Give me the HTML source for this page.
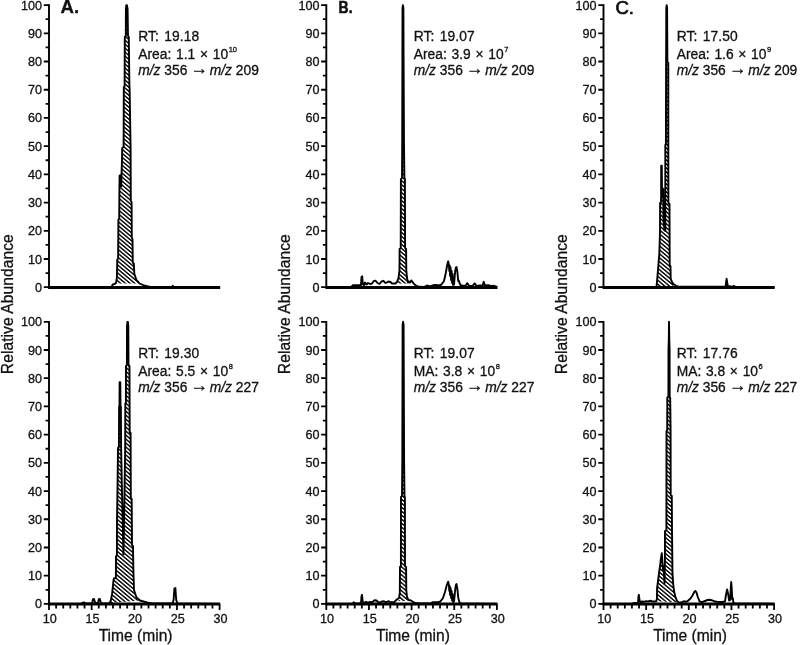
<!DOCTYPE html>
<html lang="en"><head><meta charset="utf-8"><title>Chromatograms</title>
<style>
html,body{margin:0;padding:0;background:#fff;}
body{width:800px;height:645px;overflow:hidden;}
svg{display:block;}
text{font-family:"Liberation Sans",Arial,Helvetica,sans-serif;fill:#111;stroke:#111;stroke-width:0.3px;}
.tk{font-size:12.6px;}
.an{font-size:13.8px;}
.ax{font-size:15.6px;}
.sup{font-size:7.5px;}
.arr{font-size:17.5px;}
.pl{font-size:18.6px;font-weight:bold;}
.tr{fill:none;stroke:#000;stroke-width:1.9;stroke-linejoin:round;stroke-linecap:butt;}
.axl{stroke:#000;stroke-width:1.9;fill:none;}
.tkl{stroke:#000;stroke-width:1.8;fill:none;}
.bl{stroke:#000;stroke-width:3.0;fill:none;}
</style></head><body>
<svg width="800" height="645" viewBox="0 0 800 645">
<defs><pattern id="h" patternUnits="userSpaceOnUse" width="3.05" height="8" patternTransform="rotate(-50)"><rect x="0" y="0" width="1.4" height="8" fill="#000"/></pattern></defs>
<rect x="0" y="0" width="800" height="645" fill="#fff"/>
<g>
<polygon points="115.4,283.6 116.3,281.5 116.9,277.4 117.3,259.5 118.1,258.5 118.4,219.5 119.2,218.5 119.4,190 119.6,175.6 120.5,175.2 120.6,186 121.2,186.5 121.5,175 122,160 122.2,148 123.6,147 123.8,87 124.6,86 124.8,37 125.8,36 125.9,9 126.3,5.3 126.9,5.3 127.6,9 128,36 128.8,37 129.4,86 129.6,88 130.6,148 130.8,201 131.6,202 131.8,238 132.5,239 132.8,262.5 133.8,263.5 134.3,273.5 136.2,279.5 139.6,283.5" fill="url(#h)" stroke="none"/>
<line class="axl" x1="49" y1="4.3" x2="49" y2="288.1"/>
<path class="tkl" d="M43.8 287.2H49M45.6 273.09H49M43.8 258.99H49M45.6 244.88H49M43.8 230.78H49M45.6 216.67H49M43.8 202.57H49M45.6 188.46H49M43.8 174.36H49M45.6 160.25H49M43.8 146.15H49M45.6 132.04H49M43.8 117.94H49M45.6 103.83H49M43.8 89.73H49M45.6 75.62H49M43.8 61.52H49M45.6 47.41H49M43.8 33.31H49M45.6 19.2H49M43.8 5.1H49"/>
<text class="tk" text-anchor="end" x="42.1" y="291.75">0</text>
<text class="tk" text-anchor="end" x="42.1" y="263.54">10</text>
<text class="tk" text-anchor="end" x="42.1" y="235.33">20</text>
<text class="tk" text-anchor="end" x="42.1" y="207.12">30</text>
<text class="tk" text-anchor="end" x="42.1" y="178.91">40</text>
<text class="tk" text-anchor="end" x="42.1" y="150.7">50</text>
<text class="tk" text-anchor="end" x="42.1" y="122.49">60</text>
<text class="tk" text-anchor="end" x="42.1" y="94.28">70</text>
<text class="tk" text-anchor="end" x="42.1" y="66.07">80</text>
<text class="tk" text-anchor="end" x="42.1" y="37.86">90</text>
<text class="tk" text-anchor="end" x="42.1" y="9.65">100</text>
<line class="bl" x1="48.1" y1="287.4" x2="220.2" y2="287.4"/>
<polyline class="tr" points="49,287.2 111,287.2 112,286.3 112.6,284.6 115.4,283.6 116.3,281.5 116.9,277.4 117.3,259.5 118.1,258.5 118.4,219.5 119.2,218.5 119.4,190 119.6,175.6 120.5,175.2 120.6,186 121.2,186.5 121.5,175 122,160 122.2,148 123.6,147 123.8,87 124.6,86 124.8,37 125.8,36 125.9,9 126.3,5.3 126.9,5.3 127.6,9 128,36 128.8,37 129.4,86 129.6,88 130.6,148 130.8,201 131.6,202 131.8,238 132.5,239 132.8,262.5 133.8,263.5 134.3,273.5 136.2,279.5 139.6,283.5 145,285.8 150.4,287 171.5,287.2 172.8,285.8 174,287.2 219.6,287.2"/>
<text class="an" style="word-spacing:1.3px;letter-spacing:0.1px" x="138.3" y="40.8">RT: 19.18</text>
<text class="an" style="word-spacing:0.9px" x="138.3" y="58.8">Area: 1.1 × 10<tspan class="sup" dx="0.6" dy="-6.9">10</tspan></text>
<text class="an" x="138.3" y="74.95"><tspan font-style="italic">m/z</tspan> 356 <tspan class="arr" dx="-0.6" dy="-1.1">→</tspan><tspan dx="-2.2" dy="1.1"> </tspan><tspan font-style="italic">m/z</tspan> 209</text>
</g>
<g>
<polygon points="109.8,603 110.9,600 112.1,594 113.4,581 113.9,578.5 115.9,577.8 116,556.5 116.9,555.5 117,520 117.6,480 118,448 118.9,447 119.1,406.5 119.5,405.5 119.6,382.2 120.3,382.2 120.5,405.5 120.9,406.5 121.1,446 122,492 122.9,530 123.4,554.5 123.9,530 124.5,492 125.2,446 125.3,403.5 125.9,402.5 126,366 126.9,365 127,326 127.4,321.9 127.9,321.9 128.3,326 128.5,365 129.5,366 129.7,432 130.6,433 130.8,498 131.7,499 132,545 133,546 133.4,571.6 134,590 136.5,597.5 140,600.5" fill="url(#h)" stroke="none"/>
<line class="axl" x1="49" y1="321" x2="49" y2="604.8"/>
<path class="tkl" d="M43.8 603.9H49M45.6 589.79H49M43.8 575.69H49M45.6 561.58H49M43.8 547.48H49M45.6 533.38H49M43.8 519.27H49M45.6 505.16H49M43.8 491.06H49M45.6 476.95H49M43.8 462.85H49M45.6 448.75H49M43.8 434.64H49M45.6 420.53H49M43.8 406.43H49M45.6 392.32H49M43.8 378.22H49M45.6 364.11H49M43.8 350.01H49M45.6 335.9H49M43.8 321.8H49"/>
<text class="tk" text-anchor="end" x="42.1" y="608.45">0</text>
<text class="tk" text-anchor="end" x="42.1" y="580.24">10</text>
<text class="tk" text-anchor="end" x="42.1" y="552.03">20</text>
<text class="tk" text-anchor="end" x="42.1" y="523.82">30</text>
<text class="tk" text-anchor="end" x="42.1" y="495.61">40</text>
<text class="tk" text-anchor="end" x="42.1" y="467.4">50</text>
<text class="tk" text-anchor="end" x="42.1" y="439.19">60</text>
<text class="tk" text-anchor="end" x="42.1" y="410.98">70</text>
<text class="tk" text-anchor="end" x="42.1" y="382.77">80</text>
<text class="tk" text-anchor="end" x="42.1" y="354.56">90</text>
<text class="tk" text-anchor="end" x="42.1" y="326.35">100</text>
<line class="bl" x1="48.1" y1="604.1" x2="220.2" y2="604.1"/>
<path class="tkl" d="M49 603.9V610.1M56.11 603.9V608.5M63.22 603.9V608.5M70.33 603.9V608.5M77.43 603.9V608.5M84.54 603.9V608.5M91.65 603.9V610.1M98.76 603.9V608.5M105.87 603.9V608.5M112.97 603.9V608.5M120.08 603.9V608.5M127.19 603.9V608.5M134.3 603.9V610.1M141.41 603.9V608.5M148.52 603.9V608.5M155.62 603.9V608.5M162.73 603.9V608.5M169.84 603.9V608.5M176.95 603.9V610.1M184.06 603.9V608.5M191.17 603.9V608.5M198.28 603.9V608.5M205.38 603.9V608.5M212.49 603.9V608.5M219.6 603.9V610.1"/>
<text class="tk" text-anchor="middle" x="49.8" y="622.9">10</text>
<text class="tk" text-anchor="middle" x="92.45" y="622.9">15</text>
<text class="tk" text-anchor="middle" x="135.1" y="622.9">20</text>
<text class="tk" text-anchor="middle" x="177.75" y="622.9">25</text>
<text class="tk" text-anchor="middle" x="220.4" y="622.9">30</text>
<text class="ax" text-anchor="middle" x="135.6" y="641">Time (min)</text>
<polyline class="tr" points="49,603.9 81,603.9 83.75,602.3 86,603.5 92,603.5 93,599.2 94,599 95.2,603 98,603 98.8,599.2 99.8,599 101,603.2 108.5,603.5 109.8,603 110.9,600 112.1,594 113.4,581 113.9,578.5 115.9,577.8 116,556.5 116.9,555.5 117,520 117.6,480 118,448 118.9,447 119.1,406.5 119.5,405.5 119.6,382.2 120.3,382.2 120.5,405.5 120.9,406.5 121.1,446 122,492 122.9,530 123.4,554.5 123.9,530 124.5,492 125.2,446 125.3,403.5 125.9,402.5 126,366 126.9,365 127,326 127.4,321.9 127.9,321.9 128.3,326 128.5,365 129.5,366 129.7,432 130.6,433 130.8,498 131.7,499 132,545 133,546 133.4,571.6 134,590 136.5,597.5 140,600.5 147,602.5 152,603.5 172.5,603.5 173.6,600 174.4,588.5 175.4,588 176.2,600 177.5,603.5 219.6,603.9"/>
<text class="an" style="word-spacing:1.3px;letter-spacing:0.1px" x="138.3" y="357.9">RT: 19.30</text>
<text class="an" style="word-spacing:0.9px" x="138.3" y="376.1">Area: 5.5 × 10<tspan class="sup" dx="0.6" dy="-6.9">8</tspan></text>
<text class="an" x="138.3" y="392.2"><tspan font-style="italic">m/z</tspan> 356 <tspan class="arr" dx="-0.6" dy="-1.1">→</tspan><tspan dx="-2.2" dy="1.1"> </tspan><tspan font-style="italic">m/z</tspan> 227</text>
</g>
<text class="ax" style="letter-spacing:0.07px" text-anchor="middle" transform="translate(12.6,304.2) rotate(-90)">Relative Abundance</text>
<text class="pl" x="60.6" y="13.3">A.</text>
<g>
<polygon points="398.5,278 399.5,270 399.6,249 400.7,248 400.9,179 402,178 402.2,145 402.4,60 402.5,8 402.9,5.1 403.4,8 403.6,60 404,145 404.4,178 404.9,179 405.1,248 406.1,249 406.3,270 407,278 407.6,283.5 398,283.5" fill="url(#h)" stroke="none"/>
<line class="axl" x1="326.3" y1="4.3" x2="326.3" y2="288.1"/>
<path class="tkl" d="M321.1 287.2H326.3M322.9 273.09H326.3M321.1 258.99H326.3M322.9 244.88H326.3M321.1 230.78H326.3M322.9 216.67H326.3M321.1 202.57H326.3M322.9 188.46H326.3M321.1 174.36H326.3M322.9 160.25H326.3M321.1 146.15H326.3M322.9 132.04H326.3M321.1 117.94H326.3M322.9 103.83H326.3M321.1 89.73H326.3M322.9 75.62H326.3M321.1 61.52H326.3M322.9 47.41H326.3M321.1 33.31H326.3M322.9 19.2H326.3M321.1 5.1H326.3"/>
<text class="tk" text-anchor="end" x="319.4" y="291.75">0</text>
<text class="tk" text-anchor="end" x="319.4" y="263.54">10</text>
<text class="tk" text-anchor="end" x="319.4" y="235.33">20</text>
<text class="tk" text-anchor="end" x="319.4" y="207.12">30</text>
<text class="tk" text-anchor="end" x="319.4" y="178.91">40</text>
<text class="tk" text-anchor="end" x="319.4" y="150.7">50</text>
<text class="tk" text-anchor="end" x="319.4" y="122.49">60</text>
<text class="tk" text-anchor="end" x="319.4" y="94.28">70</text>
<text class="tk" text-anchor="end" x="319.4" y="66.07">80</text>
<text class="tk" text-anchor="end" x="319.4" y="37.86">90</text>
<text class="tk" text-anchor="end" x="319.4" y="9.65">100</text>
<line class="bl" x1="325.4" y1="287.4" x2="497.5" y2="287.4"/>
<polyline class="tr" points="326.3,287.2 351,287.2 353,285.3 361,285.1 361.5,277 362.2,276.3 362.8,284 364,285.5 365,282.5 366.5,284.5 368,283 370,284 372,283.5 373.5,281.2 375.5,280.6 377.5,283 379.5,284 381.5,281.5 383.5,280.8 385,282.8 387,282.5 388.5,281.5 390.5,282 392,283.5 395.5,283.5 397,282 398.5,278 399.5,270 399.6,249 400.7,248 400.9,179 402,178 402.2,145 402.4,60 402.5,8 402.9,5.1 403.4,8 403.6,60 404,145 404.4,178 404.9,179 405.1,248 406.1,249 406.3,270 407,278 408,282.5 409,281.5 410,282.5 411.3,280.4 412.5,282 414,284 416,285.5 419,286.8 424,287 427,285.5 430,286.5 433,285.3 436,285 439,285.5 441.5,284.5 444,281 445.8,273 447.2,265 448.2,261.3 448.9,265 449.3,271 449.7,265.5 450.1,276 450.6,267.5 451.1,280 451.6,271 452.1,283 452.6,274 453.1,285 453.6,278 454,284.6 454.5,279 455.2,271 455.9,267.5 456.5,267 457.4,272 458.2,281 458.8,280.5 459.5,283 460.5,285 463,286 465.5,285.5 467.4,283.2 469,286 472.5,286 474.7,283.4 476.5,286 480,285.5 482.5,285.7 483.7,281.8 484.8,285.5 488,285.3 491,286 494,285.8 497,286.8"/>
<text class="an" style="word-spacing:1.3px;letter-spacing:0.1px" x="413.8" y="40.5">RT: 19.07</text>
<text class="an" style="word-spacing:0.9px" x="413.8" y="58.7">Area: 3.9 × 10<tspan class="sup" dx="0.6" dy="-6.9">7</tspan></text>
<text class="an" x="413.8" y="74.85"><tspan font-style="italic">m/z</tspan> 356 <tspan class="arr" dx="-0.6" dy="-1.1">→</tspan><tspan dx="-2.2" dy="1.1"> </tspan><tspan font-style="italic">m/z</tspan> 209</text>
</g>
<g>
<polygon points="399,598.2 399.8,593 400,567 400.9,566 401,497 402,496 402.3,461 402.5,380 402.6,325 403.1,321.8 403.6,325 403.8,380 404.1,461 404.5,496 404.9,497 405,566 406.1,567 406.3,590 407,597 407.6,601 398.6,601" fill="url(#h)" stroke="none"/>
<line class="axl" x1="326.3" y1="321" x2="326.3" y2="604.8"/>
<path class="tkl" d="M321.1 603.9H326.3M322.9 589.79H326.3M321.1 575.69H326.3M322.9 561.58H326.3M321.1 547.48H326.3M322.9 533.38H326.3M321.1 519.27H326.3M322.9 505.16H326.3M321.1 491.06H326.3M322.9 476.95H326.3M321.1 462.85H326.3M322.9 448.75H326.3M321.1 434.64H326.3M322.9 420.53H326.3M321.1 406.43H326.3M322.9 392.32H326.3M321.1 378.22H326.3M322.9 364.11H326.3M321.1 350.01H326.3M322.9 335.9H326.3M321.1 321.8H326.3"/>
<text class="tk" text-anchor="end" x="319.4" y="608.45">0</text>
<text class="tk" text-anchor="end" x="319.4" y="580.24">10</text>
<text class="tk" text-anchor="end" x="319.4" y="552.03">20</text>
<text class="tk" text-anchor="end" x="319.4" y="523.82">30</text>
<text class="tk" text-anchor="end" x="319.4" y="495.61">40</text>
<text class="tk" text-anchor="end" x="319.4" y="467.4">50</text>
<text class="tk" text-anchor="end" x="319.4" y="439.19">60</text>
<text class="tk" text-anchor="end" x="319.4" y="410.98">70</text>
<text class="tk" text-anchor="end" x="319.4" y="382.77">80</text>
<text class="tk" text-anchor="end" x="319.4" y="354.56">90</text>
<text class="tk" text-anchor="end" x="319.4" y="326.35">100</text>
<line class="bl" x1="325.4" y1="604.1" x2="497.5" y2="604.1"/>
<path class="tkl" d="M326.3 603.9V610.1M333.41 603.9V608.5M340.52 603.9V608.5M347.62 603.9V608.5M354.73 603.9V608.5M361.84 603.9V608.5M368.95 603.9V610.1M376.06 603.9V608.5M383.17 603.9V608.5M390.28 603.9V608.5M397.38 603.9V608.5M404.49 603.9V608.5M411.6 603.9V610.1M418.71 603.9V608.5M425.82 603.9V608.5M432.93 603.9V608.5M440.03 603.9V608.5M447.14 603.9V608.5M454.25 603.9V610.1M461.36 603.9V608.5M468.47 603.9V608.5M475.58 603.9V608.5M482.68 603.9V608.5M489.79 603.9V608.5M496.9 603.9V610.1"/>
<text class="tk" text-anchor="middle" x="327.1" y="622.9">10</text>
<text class="tk" text-anchor="middle" x="369.75" y="622.9">15</text>
<text class="tk" text-anchor="middle" x="412.4" y="622.9">20</text>
<text class="tk" text-anchor="middle" x="455.05" y="622.9">25</text>
<text class="tk" text-anchor="middle" x="497.7" y="622.9">30</text>
<text class="ax" text-anchor="middle" x="412.9" y="641">Time (min)</text>
<polyline class="tr" points="326.3,603.9 352.5,603.9 353.7,602.3 355,603.5 361,603.3 361.5,596 362,594.8 362.7,601.5 364,603 366,601.8 368,602.8 370,602 372.5,602.2 374.5,600.2 376.5,600.5 378.5,602.5 380.5,602.3 382.4,601.2 384.5,601.5 386,602.3 388.6,601.2 390.5,602.3 394,602.3 395.8,600.5 397.5,599 399,598.2 399.8,593 400,567 400.9,566 401,497 402,496 402.3,461 402.5,380 402.6,325 403.1,321.8 403.6,325 403.8,380 404.1,461 404.5,496 404.9,497 405,566 406.1,567 406.3,590 407,597 408.5,600 410.5,600.2 412.5,601.5 415,603 420,603.5 431,603.5 432.5,602.3 438,602.2 440.4,601.5 443,598 445,592 446.8,585 448.2,581.7 448.9,585 449.3,591 449.7,586 450.1,595 450.6,588 451.1,598 451.6,591 452.1,600.5 452.6,594 453.1,602 453.6,597 454,601.6 454.6,596 455.3,589 455.9,585 456.5,584 457.4,589 458.3,598 459.5,602.5 461,603.5 497,603.9"/>
<text class="an" style="word-spacing:1.3px;letter-spacing:0.1px" x="413.8" y="357.9">RT: 19.07</text>
<text class="an" style="word-spacing:0.9px" x="413.8" y="376.1">MA: 3.8 × 10<tspan class="sup" dx="0.6" dy="-6.9">8</tspan></text>
<text class="an" x="413.8" y="392.2"><tspan font-style="italic">m/z</tspan> 356 <tspan class="arr" dx="-0.6" dy="-1.1">→</tspan><tspan dx="-2.2" dy="1.1"> </tspan><tspan font-style="italic">m/z</tspan> 227</text>
</g>
<text class="ax" style="letter-spacing:0.07px" text-anchor="middle" transform="translate(289.9,304.2) rotate(-90)">Relative Abundance</text>
<text class="pl" style="font-size:17px;stroke-width:0.6px" transform="translate(338.6,13.1) scale(0.82,1)">B.</text>
<g>
<polygon points="656.6,286 657.4,277 658.3,266 659.3,254 660,232 660.1,203 661.1,202 661.2,165.6 661.8,165.6 662,197 662.6,197 662.8,188.8 663.3,188.8 663.5,221 664.5,230.5 665.3,230.5 665.3,203 665.3,145 665.9,144 666.1,62 666.3,8 666.7,5.1 667.1,8 667.4,62 668.3,63 668.3,144 668.4,203 669.5,204 669.6,232 669.7,265 670.5,266 670.7,279 672,282 673.4,284 673.4,286 657,286" fill="url(#h)" stroke="none"/>
<line class="axl" x1="603.5" y1="4.3" x2="603.5" y2="288.1"/>
<path class="tkl" d="M598.3 287.2H603.5M600.1 273.09H603.5M598.3 258.99H603.5M600.1 244.88H603.5M598.3 230.78H603.5M600.1 216.67H603.5M598.3 202.57H603.5M600.1 188.46H603.5M598.3 174.36H603.5M600.1 160.25H603.5M598.3 146.15H603.5M600.1 132.04H603.5M598.3 117.94H603.5M600.1 103.83H603.5M598.3 89.73H603.5M600.1 75.62H603.5M598.3 61.52H603.5M600.1 47.41H603.5M598.3 33.31H603.5M600.1 19.2H603.5M598.3 5.1H603.5"/>
<text class="tk" text-anchor="end" x="596.6" y="291.75">0</text>
<text class="tk" text-anchor="end" x="596.6" y="263.54">10</text>
<text class="tk" text-anchor="end" x="596.6" y="235.33">20</text>
<text class="tk" text-anchor="end" x="596.6" y="207.12">30</text>
<text class="tk" text-anchor="end" x="596.6" y="178.91">40</text>
<text class="tk" text-anchor="end" x="596.6" y="150.7">50</text>
<text class="tk" text-anchor="end" x="596.6" y="122.49">60</text>
<text class="tk" text-anchor="end" x="596.6" y="94.28">70</text>
<text class="tk" text-anchor="end" x="596.6" y="66.07">80</text>
<text class="tk" text-anchor="end" x="596.6" y="37.86">90</text>
<text class="tk" text-anchor="end" x="596.6" y="9.65">100</text>
<line class="bl" x1="602.6" y1="287.4" x2="774.7" y2="287.4"/>
<polyline class="tr" points="603.5,287.2 655,287.2 656.6,286 657.4,277 658.3,266 659.3,254 660,232 660.1,203 661.1,202 661.2,165.6 661.8,165.6 662,197 662.6,197 662.8,188.8 663.3,188.8 663.5,221 664.5,230.5 665.3,230.5 665.3,203 665.3,145 665.9,144 666.1,62 666.3,8 666.7,5.1 667.1,8 667.4,62 668.3,63 668.3,144 668.4,203 669.5,204 669.6,232 669.7,265 670.5,266 670.7,279 672,282 673.4,284 676,285.8 680,286.8 725.6,286.8 726.2,281.5 726.6,278.8 727.1,282 727.8,286 732,286.8 734,286 736,287 774.3,287.2"/>
<text class="an" style="word-spacing:1.3px;letter-spacing:0.1px" x="676.7" y="40.5">RT: 17.50</text>
<text class="an" style="word-spacing:0.9px" x="676.7" y="58.7">Area: 1.6 × 10<tspan class="sup" dx="0.6" dy="-6.9">9</tspan></text>
<text class="an" x="676.7" y="74.85"><tspan font-style="italic">m/z</tspan> 356 <tspan class="arr" dx="-0.6" dy="-1.1">→</tspan><tspan dx="-2.2" dy="1.1"> </tspan><tspan font-style="italic">m/z</tspan> 209</text>
</g>
<g>
<polygon points="656.2,601.2 656.9,599 657.1,588 657.9,582 659,573 660.2,565 661,558 661.8,553.2 662.4,562 663,570 663.6,566 664,575 664.6,583 664.9,560 665,531 666.4,530 666.5,431 667.2,430 667.3,397.5 668.4,396.5 668.5,349 668.8,340 669,321.8 669.3,340 669.6,349 669.7,397 670.2,398 670.6,430 670.7,495 671.8,496 672,530 672.5,573 673.3,585 674.2,592 675.5,597 676.8,600.5 678.3,602.3" fill="url(#h)" stroke="none"/>
<line class="axl" x1="603.5" y1="321" x2="603.5" y2="604.8"/>
<path class="tkl" d="M598.3 603.9H603.5M600.1 589.79H603.5M598.3 575.69H603.5M600.1 561.58H603.5M598.3 547.48H603.5M600.1 533.38H603.5M598.3 519.27H603.5M600.1 505.16H603.5M598.3 491.06H603.5M600.1 476.95H603.5M598.3 462.85H603.5M600.1 448.75H603.5M598.3 434.64H603.5M600.1 420.53H603.5M598.3 406.43H603.5M600.1 392.32H603.5M598.3 378.22H603.5M600.1 364.11H603.5M598.3 350.01H603.5M600.1 335.9H603.5M598.3 321.8H603.5"/>
<text class="tk" text-anchor="end" x="596.6" y="608.45">0</text>
<text class="tk" text-anchor="end" x="596.6" y="580.24">10</text>
<text class="tk" text-anchor="end" x="596.6" y="552.03">20</text>
<text class="tk" text-anchor="end" x="596.6" y="523.82">30</text>
<text class="tk" text-anchor="end" x="596.6" y="495.61">40</text>
<text class="tk" text-anchor="end" x="596.6" y="467.4">50</text>
<text class="tk" text-anchor="end" x="596.6" y="439.19">60</text>
<text class="tk" text-anchor="end" x="596.6" y="410.98">70</text>
<text class="tk" text-anchor="end" x="596.6" y="382.77">80</text>
<text class="tk" text-anchor="end" x="596.6" y="354.56">90</text>
<text class="tk" text-anchor="end" x="596.6" y="326.35">100</text>
<line class="bl" x1="602.6" y1="604.1" x2="774.7" y2="604.1"/>
<path class="tkl" d="M603.5 603.9V610.1M610.61 603.9V608.5M617.72 603.9V608.5M624.83 603.9V608.5M631.93 603.9V608.5M639.04 603.9V608.5M646.15 603.9V610.1M653.26 603.9V608.5M660.37 603.9V608.5M667.48 603.9V608.5M674.58 603.9V608.5M681.69 603.9V608.5M688.8 603.9V610.1M695.91 603.9V608.5M703.02 603.9V608.5M710.12 603.9V608.5M717.23 603.9V608.5M724.34 603.9V608.5M731.45 603.9V610.1M738.56 603.9V608.5M745.67 603.9V608.5M752.77 603.9V608.5M759.88 603.9V608.5M766.99 603.9V608.5M774.1 603.9V610.1"/>
<text class="tk" text-anchor="middle" x="604.3" y="622.9">10</text>
<text class="tk" text-anchor="middle" x="646.95" y="622.9">15</text>
<text class="tk" text-anchor="middle" x="689.6" y="622.9">20</text>
<text class="tk" text-anchor="middle" x="732.25" y="622.9">25</text>
<text class="tk" text-anchor="middle" x="774.9" y="622.9">30</text>
<text class="ax" text-anchor="middle" x="690.1" y="641">Time (min)</text>
<polyline class="tr" points="603.5,603.9 632,603.9 634,603 636.5,603.2 638,602.5 638.5,596 638.9,594.8 639.5,600 640.3,603 641.5,601.5 644,601.8 646,601.2 648,601.5 650,600.8 652,601.2 654,601.5 656.2,601.2 656.9,599 657.1,588 657.9,582 659,573 660.2,565 661,558 661.8,553.2 662.4,562 663,570 663.6,566 664,575 664.6,583 664.9,560 665,531 666.4,530 666.5,431 667.2,430 667.3,397.5 668.4,396.5 668.5,349 668.8,340 669,321.8 669.3,340 669.6,349 669.7,397 670.2,398 670.6,430 670.7,495 671.8,496 672,530 672.5,573 673.3,585 674.2,592 675.5,597 676.8,600.5 678.3,602.3 681,602.5 683.8,601.3 686,601.8 688,600.8 690.5,598.5 692.5,595.5 694.3,592 695.4,591 696.5,592.5 697.8,597 699.6,601.5 702,602.2 705,601 707.5,600 709.2,599.7 711.5,600.2 714,601.2 716.8,601.8 722,602 725,601.5 725.8,596 727.1,589.5 728.2,594 729.1,600.5 730.2,600 730.8,588 731.2,582 731.7,588 732.2,599 732.8,598 733.3,602 734,603.5 774.5,603.9"/>
<text class="an" style="word-spacing:1.3px;letter-spacing:0.1px" x="676.7" y="357.9">RT: 17.76</text>
<text class="an" style="word-spacing:0.9px" x="676.7" y="376.1">MA: 3.8 × 10<tspan class="sup" dx="0.6" dy="-6.9">6</tspan></text>
<text class="an" x="676.7" y="392.2"><tspan font-style="italic">m/z</tspan> 356 <tspan class="arr" dx="-0.6" dy="-1.1">→</tspan><tspan dx="-2.2" dy="1.1"> </tspan><tspan font-style="italic">m/z</tspan> 227</text>
</g>
<text class="ax" style="letter-spacing:0.07px" text-anchor="middle" transform="translate(567.1,304.2) rotate(-90)">Relative Abundance</text>
<text class="pl" style="font-weight:normal;stroke-width:0.7px" x="615.4" y="13.6">C.</text>
</svg>
</body></html>
